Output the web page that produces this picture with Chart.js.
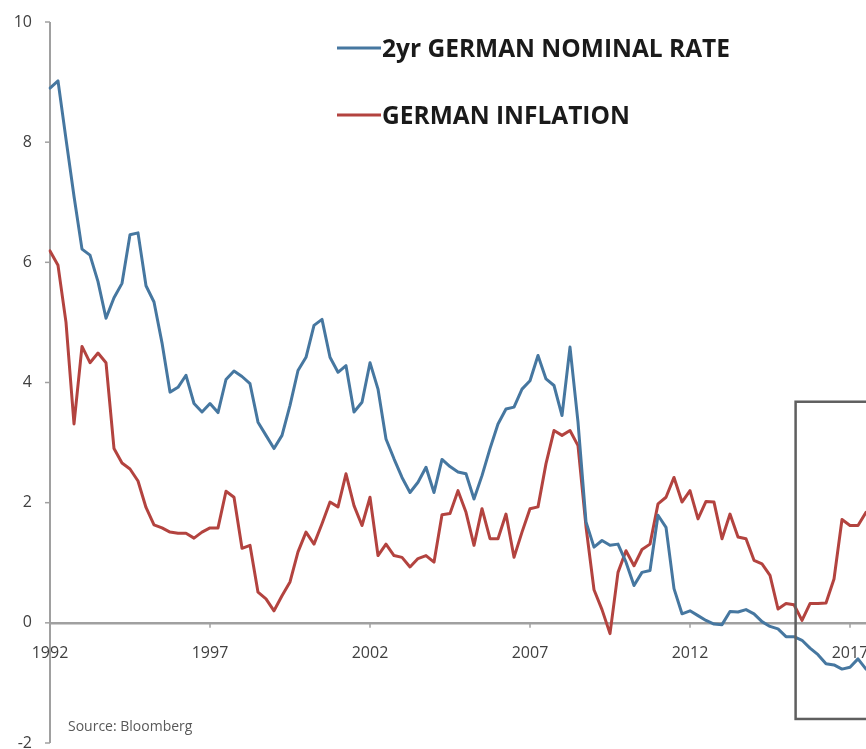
<!DOCTYPE html>
<html>
<head>
<meta charset="utf-8">
<script src="https://cdn.jsdelivr.net/npm/chart.js@4.4.1/dist/chart.umd.min.js"></script>
<style>
html,body{margin:0;padding:0;background:#ffffff;overflow:hidden;}
#wrap{position:relative;width:866px;height:749px;}
canvas{display:block;}
</style>
</head>
<body>
<div id="wrap"><canvas id="c" width="866" height="749"></canvas></div>
<script>
// ---------- data ----------
const startYear = 1992;
const tickYears = ['1992', '1997', '2002', '2007', '2012', '2017'];
const seriesNames = ['2yr GERMAN NOMINAL RATE', 'GERMAN INFLATION'];
const sourceNote = 'Source: Bloomberg';

// quarterly, 1992 Q1 .. 2017 Q3
const nominalRate2y = [
  8.90, 9.02, 8.05, 7.10, 6.22, 6.12, 5.68, 5.07, 5.41, 5.65,
  6.46, 6.49, 5.61, 5.34, 4.66, 3.84, 3.92, 4.12, 3.65, 3.51,
  3.65, 3.50, 4.05, 4.19, 4.10, 3.98, 3.34, 3.12, 2.90, 3.12,
  3.62, 4.20, 4.42, 4.95, 5.05, 4.42, 4.17, 4.28, 3.51, 3.67,
  4.33, 3.89, 3.06, 2.73, 2.42, 2.17, 2.34, 2.59, 2.17, 2.72,
  2.60, 2.51, 2.48, 2.06, 2.45, 2.90, 3.31, 3.56, 3.59, 3.89,
  4.03, 4.45, 4.06, 3.95, 3.45, 4.59, 3.34, 1.68, 1.26, 1.37,
  1.29, 1.31, 1.01, 0.62, 0.84, 0.87, 1.79, 1.59, 0.57, 0.15,
  0.20, 0.12, 0.04, -0.02, -0.03, 0.19, 0.18, 0.22, 0.15, 0.02,
  -0.06, -0.10, -0.23, -0.23, -0.29, -0.42, -0.53, -0.68, -0.70, -0.77,
  -0.74, -0.60, -0.77
];
const inflation = [
  6.19, 5.95, 5.00, 3.31, 4.60, 4.33, 4.49, 4.33, 2.90, 2.66,
  2.56, 2.36, 1.92, 1.63, 1.58, 1.51, 1.49, 1.49, 1.41, 1.51,
  1.58, 1.58, 2.19, 2.09, 1.24, 1.29, 0.51, 0.40, 0.20, 0.45,
  0.68, 1.18, 1.51, 1.31, 1.65, 2.01, 1.93, 2.48, 1.95, 1.62,
  2.09, 1.12, 1.31, 1.12, 1.09, 0.93, 1.07, 1.12, 1.01, 1.80,
  1.82, 2.20, 1.84, 1.29, 1.90, 1.40, 1.40, 1.81, 1.09, 1.51,
  1.90, 1.93, 2.65, 3.20, 3.12, 3.20, 2.95, 1.60, 0.55, 0.22,
  -0.18, 0.84, 1.20, 0.95, 1.22, 1.31, 1.98, 2.09, 2.42, 2.01,
  2.20, 1.73, 2.02, 2.01, 1.40, 1.81, 1.43, 1.40, 1.04, 0.98,
  0.79, 0.23, 0.32, 0.30, 0.04, 0.32, 0.32, 0.33, 0.73, 1.72,
  1.62, 1.62, 1.84
];
const yMin = -2, yMax = 10, yStep = 2;

// highlighted region (in data units: quarter index / percent)
const highlightBox = { fromQuarter: 93.2, toQuarter: 110, top: 3.68, bottom: -1.6 };

const quarters = nominalRate2y.map((_, i) => (startYear + Math.floor(i / 4)) + ' Q' + (i % 4 + 1));

// ---------- style ----------
const BLUE = '#4677a0';
const RED = '#b3433f';
const AXIS = '#a0a0a0';
const TEXT = '#404040';
Chart.defaults.font.family = "'Open Sans', 'Liberation Sans', sans-serif";

function isYearTick(idx) {
  const lab = quarters[idx];
  if (!lab) return false;
  const parts = lab.split(' ');
  return parts[1] === 'Q1' && tickYears.includes(parts[0]);
}

const legendPlugin = {
  id: 'refLegend',
  afterDraw(chart, args, opts) {
    const ctx = chart.ctx;
    ctx.save();
    chart.data.datasets.forEach((ds, i) => {
      const y = opts.top + i * opts.gap;
      ctx.strokeStyle = ds.borderColor;
      ctx.lineWidth = 3;
      ctx.beginPath();
      ctx.moveTo(opts.x, y);
      ctx.lineTo(opts.x + opts.lineLen, y);
      ctx.stroke();
      ctx.fillStyle = '#1a1a1a';
      ctx.font = 'bold ' + opts.size + "px 'Open Sans', sans-serif";
      ctx.textAlign = 'left';
      ctx.textBaseline = 'middle';
      ctx.fillText(ds.label, opts.x + opts.lineLen + 1, y + 2);
    });
    ctx.restore();
  }
};

const sourcePlugin = {
  id: 'sourceNote',
  afterDraw(chart, args, opts) {
    const ctx = chart.ctx;
    ctx.save();
    ctx.fillStyle = '#595959';
    ctx.font = "14px 'Open Sans', sans-serif";
    ctx.textAlign = 'left';
    ctx.textBaseline = 'middle';
    ctx.fillText(opts.text, opts.x, opts.y);
    ctx.restore();
  }
};

const boxPlugin = {
  id: 'highlightBox',
  afterDatasetsDraw(chart) {
    const xs = chart.scales.x, ys = chart.scales.y;
    const x1 = xs.getPixelForValue(highlightBox.fromQuarter);
    const x2 = xs.getPixelForValue(highlightBox.toQuarter);
    const y1 = ys.getPixelForValue(highlightBox.top);
    const y2 = ys.getPixelForValue(highlightBox.bottom);
    const ctx = chart.ctx;
    ctx.save();
    ctx.strokeStyle = '#5f5f5f';
    ctx.lineWidth = 2.5;
    ctx.strokeRect(x1, y1, x2 - x1, y2 - y1);
    ctx.restore();
  }
};

// axis line + tick marks drawn from the scales
const axisPlugin = {
  id: 'axisMarks',
  beforeDatasetsDraw(chart) {
    const xs = chart.scales.x, ys = chart.scales.y;
    const ctx = chart.ctx;
    const x0 = xs.getPixelForValue(0);
    const yZero = ys.getPixelForValue(0);
    ctx.save();
    ctx.strokeStyle = AXIS;
    ctx.lineWidth = 2;
    ctx.beginPath();
    ctx.moveTo(x0, ys.getPixelForValue(yMax));
    ctx.lineTo(x0, ys.getPixelForValue(yMin));
    ctx.stroke();
    ctx.lineWidth = 1.5;
    ys.ticks.forEach((t) => {
      const p = ys.getPixelForValue(t.value);
      ctx.beginPath();
      ctx.moveTo(x0 - 5, p);
      ctx.lineTo(x0, p);
      ctx.stroke();
    });
    quarters.forEach((q, i) => {
      if (!isYearTick(i) || i === 0) return;
      const p = xs.getPixelForValue(i);
      ctx.beginPath();
      ctx.moveTo(p, yZero);
      ctx.lineTo(p, yZero + 5);
      ctx.stroke();
    });
    ctx.restore();
  }
};

new Chart(document.getElementById('c'), {
  type: 'line',
  data: {
    labels: quarters,
    datasets: [
      { label: seriesNames[0], data: nominalRate2y, borderColor: BLUE, backgroundColor: BLUE },
      { label: seriesNames[1], data: inflation, borderColor: RED, backgroundColor: RED }
    ]
  },
  options: {
    responsive: false,
    animation: false,
    devicePixelRatio: 1,
    layout: { padding: { top: 22, right: 0, bottom: 6, left: 0 } },
    elements: {
      line: { borderWidth: 3, tension: 0, borderJoinStyle: 'round', borderCapStyle: 'round' },
      point: { radius: 0, hoverRadius: 0 }
    },
    plugins: {
      legend: { display: false },
      tooltip: { enabled: false },
      refLegend: { x: 337, lineLen: 44, top: 48, gap: 67, size: 24.5 },
      sourceNote: { text: sourceNote, x: 68, y: 727 }
    },
    scales: {
      x: {
        type: 'category',
        position: { y: 0 },
        offset: false,
        border: { display: true, color: AXIS, width: 2.5 },
        grid: { display: true, drawOnChartArea: false, drawTicks: true, tickLength: 5, color: 'rgba(0,0,0,0)' },
        ticks: {
          autoSkip: false,
          maxRotation: 0,
          minRotation: 0,
          padding: 16,
          color: TEXT,
          font: { size: 16 },
          callback: (v, idx) => isYearTick(idx) ? quarters[idx].split(' ')[0] : ''
        },
        afterFit: (s) => { s.paddingLeft = 0; s.paddingRight = 0; }
      },
      y: {
        min: yMin,
        max: yMax,
        border: { display: false },
        grid: { display: true, drawOnChartArea: false, drawTicks: true, tickLength: 5, color: 'rgba(0,0,0,0)' },
        ticks: {
          stepSize: yStep,
          padding: 13,
          color: TEXT,
          font: { size: 16 },
          callback: (v) => String(v)
        },
        afterFit: (s) => { s.width = 50; s.paddingTop = 0; s.paddingBottom = 0; }
      }
    }
  },
  plugins: [axisPlugin, legendPlugin, sourcePlugin, boxPlugin]
});
</script>
</body>
</html>
